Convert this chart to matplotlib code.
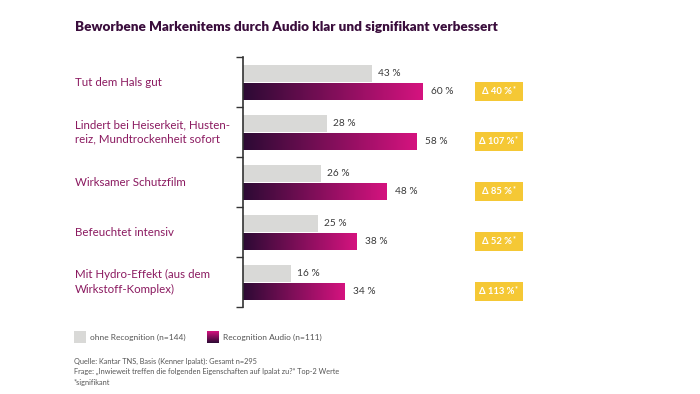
import numpy as np
import matplotlib.pyplot as plt
from matplotlib.colors import LinearSegmentedColormap
from matplotlib.patches import Rectangle

categories = [
    "Tut dem Hals gut",
    "Lindert bei Heiserkeit, Husten-\nreiz, Mundtrockenheit sofort",
    "Wirksamer Schutzfilm",
    "Befeuchtet intensiv",
    "Mit Hydro-Effekt (aus dem\nWirkstoff-Komplex)",
]
ohne = [43, 28, 26, 25, 16]
audio = [60, 58, 48, 38, 34]
delta = ["Δ 40 %", "Δ 107 %", "Δ 85 %", "Δ 52 %", "Δ 113 %"]
legend_labels = ["ohne Recognition (n=144)", "Recognition Audio (n=111)"]
notes = [
    "Quelle: Kantar TNS, Basis (Kenner Ipalat): Gesamt n=295",
    "Frage: \u201eInwieweit treffen die folgenden Eigenschaften auf Ipalat zu?\u201c Top-2 Werte",
    "*signifikant",
]

GRAY = "#d9d9d7"
PLUM = "#8b1a60"
TITLE = "#3a0d3c"
YELLOW = "#f5c835"
grad = LinearSegmentedColormap.from_list("g", ["#2c0a34", "#d5137f"])

plt.rcParams["font.family"] = ["Lato", "DejaVu Sans"]

W, H = 700, 394
fig = plt.figure(figsize=(7, 3.94), dpi=100)
# axis line at x=243px, 3 px per percent
ax = fig.add_axes([243 / W, 1 - 307 / H, 357 / W, 250 / H])

h = 0.34
ramp = np.linspace(0, 1, 256).reshape(1, -1)
for i, (a, b) in enumerate(zip(ohne, audio)):
    ax.barh(i - 0.17, a, height=h, color=GRAY, zorder=2)
    ax.text(a + 2, i - 0.17, f"{a} %", va="center", ha="left", fontsize=7.3, color="#3a3a3a")
    y0, y1 = i + 0.19 - h / 2, i + 0.19 + h / 2
    ax.imshow(ramp, cmap=grad, aspect="auto", extent=(0, b, y1, y0), zorder=2)
    ax.text(b + 2.7, i + 0.19, f"{b} %", va="center", ha="left", fontsize=7.3, color="#3a3a3a")
    # significance badge
    ax.add_patch(Rectangle((77.3, i + 0.19 - 0.19), 16, 0.38, fc=YELLOW, ec="none", zorder=2))
    t = ax.text(84.6, i + 0.2, delta[i], va="center", ha="center", fontsize=6.8,
                color="white", fontweight="bold", zorder=3)
    ax.annotate("*", xy=(1, 1), xycoords=t, xytext=(0.4, -1), textcoords="offset points",
                ha="left", va="center", fontsize=5, color="white", fontweight="bold", zorder=3)
    ax.text(-168 / 3, i, categories[i], va="center", ha="left", fontsize=8.3,
            color=PLUM, linespacing=1.35)

ax.set_xlim(0, 119)
ax.set_ylim(len(categories) - 0.5, -0.5)
for s in ["top", "right", "bottom"]:
    ax.spines[s].set_visible(False)
ax.spines["left"].set_color("#333333")
ax.spines["left"].set_linewidth(1.2)
ax.set_yticks(np.arange(-0.5, len(categories), 1))
ax.set_yticklabels([])
ax.tick_params(axis="y", length=5, width=1, color="#333333")
ax.set_xticks([])

fig.text(75 / W, 1 - 27 / H, "Beworbene Markenitems durch Audio klar und signifikant verbessert",
         fontsize=9.7, fontweight="heavy", color=TITLE, va="center", ha="left")

# legend
fig.patches.append(Rectangle((74 / W, 1 - 343 / H), 12 / W, 12 / H, transform=fig.transFigure,
                             fc=GRAY, ec="none"))
lax = fig.add_axes([207 / W, 1 - 343 / H, 12 / W, 12 / H])
lax.imshow(ramp.T[::-1], cmap=grad, aspect="auto", extent=(0, 1, 0, 1))
lax.set_axis_off()
fig.text(90 / W, 1 - 337 / H, legend_labels[0], fontsize=6, color="#555555", va="center")
fig.text(223 / W, 1 - 337 / H, legend_labels[1], fontsize=6, color="#555555", va="center")

for k, n in enumerate(notes):
    fig.text(74 / W, 1 - (361 + 10.5 * k) / H, n, fontsize=5.3, color="#555555", va="center")

fig.savefig("out.png", dpi=100, facecolor="white")
